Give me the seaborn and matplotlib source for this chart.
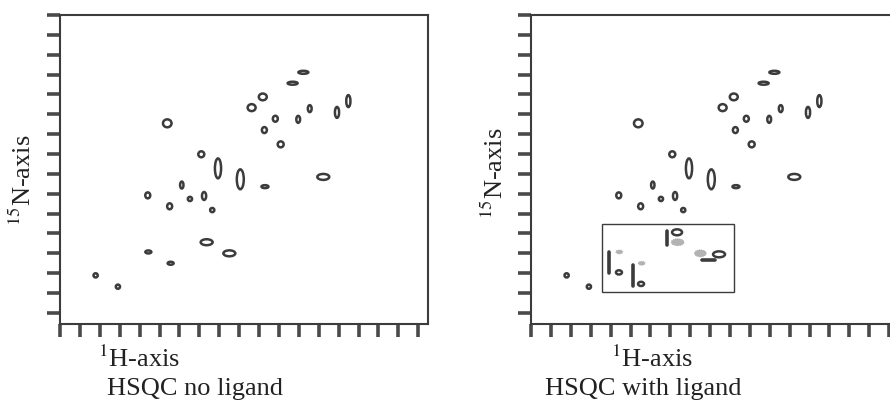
import matplotlib
matplotlib.use("Agg")
import matplotlib.pyplot as plt
from matplotlib.patches import Ellipse, Rectangle
import pandas as pd
import seaborn as sns

# peak centres in tick units (1H along x, 15N along y) and contour sizes
peak_h = [12.23, 11.69, 10.19, 9.63, 14.49, 13.92, 12.55, 11.97, 10.82, 10.27,
          11.09, 5.39, 7.10, 7.94, 9.06, 10.30, 13.23, 6.12, 4.41, 6.53,
          7.24, 5.51, 7.65, 7.37, 8.51, 4.44, 5.56, 1.79, 2.91]
peak_n = [12.68, 12.13, 11.44, 10.90, 11.23, 10.66, 10.85, 10.31, 10.34, 9.77,
          9.05, 10.11, 8.55, 7.84, 7.29, 6.92, 7.41, 7.00, 6.48, 6.30,
          6.45, 5.93, 5.74, 4.12, 3.56, 3.63, 3.06, 2.45, 1.88]
peak_w = [0.50, 0.50, 0.40, 0.40, 0.21, 0.21, 0.19, 0.19, 0.25, 0.25,
          0.30, 0.43, 0.30, 0.31, 0.35, 0.35, 0.60, 0.17, 0.25, 0.21,
          0.21, 0.25, 0.21, 0.60, 0.60, 0.30, 0.30, 0.21, 0.21]
peak_ht = [0.15, 0.15, 0.34, 0.35, 0.60, 0.55, 0.35, 0.35, 0.30, 0.30,
           0.30, 0.40, 0.30, 1.00, 1.00, 0.15, 0.30, 0.35, 0.30, 0.21,
           0.40, 0.30, 0.21, 0.30, 0.30, 0.15, 0.15, 0.21, 0.21]

# peaks that shift on ligand binding (index into the lists above)
moved_idx = [23, 24, 25, 26]
moved_h = [7.34, 9.45, 4.42, 5.53]
moved_n = [4.62, 3.51, 2.60, 2.02]
moved_w = [0.50, 0.60, 0.30, 0.30]
moved_ht = [0.30, 0.30, 0.21, 0.21]
ghost_w = [0.65, 0.60, 0.35, 0.35]
ghost_ht = [0.35, 0.35, 0.20, 0.20]

# shift markers drawn next to the moved peaks
shift_peak = ["a", "a", "b", "b", "c", "c", "d", "d"]
shift_x = [6.83, 6.83, 8.58, 9.25, 3.94, 3.94, 5.13, 5.13]
shift_y = [3.98, 4.68, 3.22, 3.22, 3.64, 2.55, 2.97, 1.91]

# zoom box around the shifted region
box_x = [3.55, 10.22]
box_y = [1.63, 5.04]

sns.set_style("white")
plt.rcParams["font.family"] = ["Liberation Serif", "DejaVu Serif"]
plt.rcParams["mathtext.fontset"] = "stix"

W, H = 890, 401
INK = "#3c3c3c"
TICK = "#4a4a4a"
fig = plt.figure(figsize=(W / 100, H / 100), dpi=100)


def add_panel(left_px):
    ax = fig.add_axes([left_px / W, (H - 324) / H, 368 / W, 309 / H])
    ax.set_xlim(0, 368 / 19.9)
    ax.set_ylim(0, 309 / 19.85)
    ax.set_xticks(range(19))
    ax.set_yticks([309 / 19.85 - k for k in range(16)])
    ax.tick_params(bottom=True, left=True, direction="out", length=9.5,
                   width=2.6, color=TICK, labelbottom=False, labelleft=False)
    for sp in ax.spines.values():
        sp.set_linewidth(1.5)
        sp.set_color(INK)
    ax.set_xlabel("")
    ax.set_ylabel("")
    return ax


def ellipse(ax, x, y, w, h, **kw):
    ax.add_patch(Ellipse((x, y), w, h, **kw))


ring = dict(fill=False, lw=1.8, ec=INK)

# left: free protein
ax1 = add_panel(60)
for x, y, w, h in zip(peak_h, peak_n, peak_w, peak_ht):
    ellipse(ax1, x, y, w, h, **ring)

# right: with ligand
ax2 = add_panel(531)
for i, (x, y, w, h) in enumerate(zip(peak_h, peak_n, peak_w, peak_ht)):
    if i in moved_idx:
        continue
    ellipse(ax2, x, y, w, h, **ring)
for k, i in enumerate(moved_idx):
    ellipse(ax2, peak_h[i], peak_n[i], ghost_w[k], ghost_ht[k],
            fc="#b3b3b3", ec="#a0a0a0", lw=0.6, ls=":")
    ellipse(ax2, moved_h[k], moved_n[k], moved_w[k], moved_ht[k], **ring)

shift_df = pd.DataFrame({"peak": shift_peak, "x": shift_x, "y": shift_y})
sns.lineplot(data=shift_df, x="x", y="y", units="peak", estimator=None,
             sort=False, color=INK, lw=2.6, ax=ax2, legend=False)
ax2.set_xlabel("")
ax2.set_ylabel("")
ax2.add_patch(Rectangle((box_x[0], box_y[0]), box_x[1] - box_x[0],
                        box_y[1] - box_y[0], fill=False, lw=1.0, ec=INK))

fs = 19
fy = lambda py: 1 - py / H
fig.text(98 / W, fy(367), r"$^{1}$H-axis", fontsize=fs, color="#222222",
         ha="left", va="baseline")
fig.text(107 / W, fy(395), "HSQC no ligand", fontsize=fs, color="#222222",
         ha="left", va="baseline")
fig.text(23 / W, fy(180), r"$^{15}$N-axis", fontsize=fs, color="#222222",
         rotation=90, ha="center", va="center")
fig.text(611 / W, fy(367), r"$^{1}$H-axis", fontsize=fs, color="#222222",
         ha="left", va="baseline")
fig.text(545 / W, fy(395), "HSQC with ligand", fontsize=fs, color="#222222",
         ha="left", va="baseline")
fig.text(495 / W, fy(173), r"$^{15}$N-axis", fontsize=fs, color="#222222",
         rotation=90, ha="center", va="center")

fig.savefig("out.png", dpi=100)
